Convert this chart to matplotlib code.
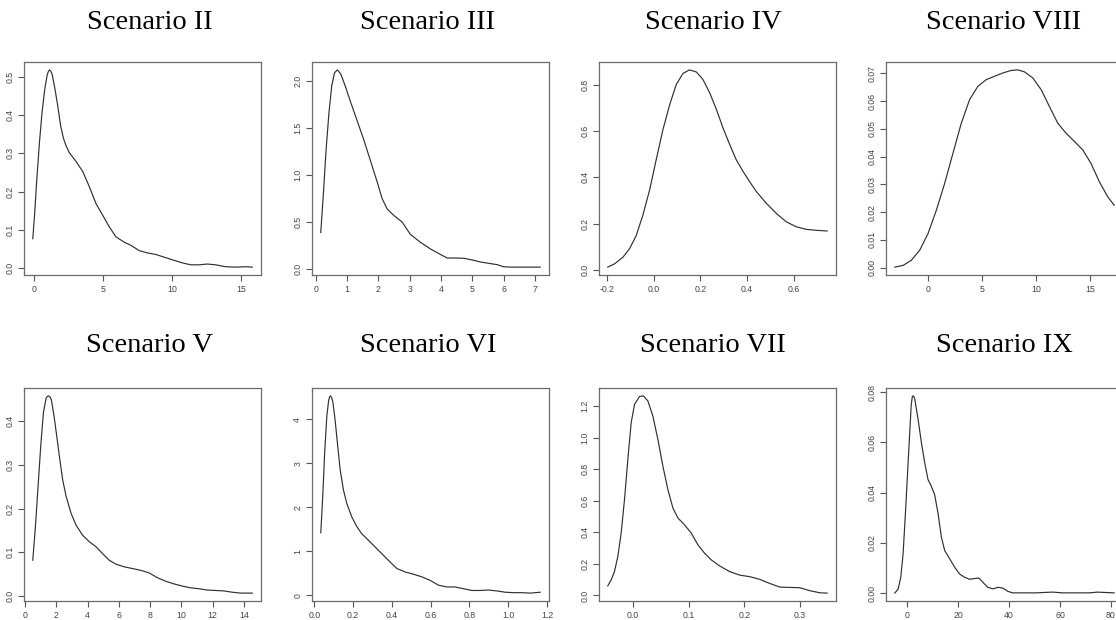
import matplotlib
matplotlib.use("Agg")
import matplotlib.pyplot as plt

plt.rcParams["axes.unicode_minus"] = False
plt.rcParams["font.family"] = "Liberation Sans"

# ---------------- data (density curves) ----------------
titles = ["Scenario II", "Scenario III", "Scenario IV", "Scenario VIII",
          "Scenario V", "Scenario VI", "Scenario VII", "Scenario IX"]

x_ii = [-0.12, 0.0, 0.17, 0.36, 0.55, 0.75, 0.92, 1.0, 1.09, 1.18, 1.28, 1.47, 1.69, 1.90,
        2.10, 2.29, 2.53, 3.01, 3.50, 3.98, 4.46, 4.94, 5.43, 5.91, 6.51, 6.99, 7.60, 8.20,
        8.80, 9.40, 10.01, 10.73, 11.33, 11.94, 12.54, 13.14, 13.87, 14.59, 15.31, 15.79]
y_ii = [0.077, 0.134, 0.231, 0.327, 0.406, 0.468, 0.504, 0.513, 0.518, 0.515, 0.507, 0.472,
        0.424, 0.372, 0.340, 0.320, 0.302, 0.279, 0.253, 0.213, 0.169, 0.139, 0.108, 0.082,
        0.068, 0.060, 0.046, 0.040, 0.036, 0.029, 0.022, 0.014, 0.009, 0.009, 0.011, 0.009,
        0.004, 0.003, 0.004, 0.003]

x_iii = [0.16, 0.25, 0.33, 0.42, 0.51, 0.60, 0.69, 0.80, 0.94, 1.10, 1.31, 1.53, 1.74, 1.96,
         2.12, 2.28, 2.49, 2.76, 3.02, 3.34, 3.66, 3.99, 4.20, 4.47, 4.73, 5.00, 5.27, 5.53,
         5.80, 5.99, 6.23, 6.55, 6.98, 7.17]
y_iii = [0.39, 0.84, 1.27, 1.66, 1.95, 2.09, 2.12, 2.075, 1.95, 1.79, 1.59, 1.38, 1.16, 0.93,
         0.75, 0.64, 0.572, 0.50, 0.37, 0.286, 0.215, 0.154, 0.118, 0.118, 0.115, 0.097,
         0.075, 0.061, 0.047, 0.025, 0.021, 0.021, 0.021, 0.021]

x_iv = [-0.196, -0.167, -0.131, -0.103, -0.074, -0.046, -0.017, 0.011, 0.04, 0.069, 0.097,
        0.126, 0.154, 0.183, 0.211, 0.24, 0.269, 0.297, 0.326, 0.354, 0.383, 0.411, 0.44,
        0.483, 0.526, 0.569, 0.611, 0.654, 0.697, 0.743]
y_iv = [0.012, 0.026, 0.055, 0.091, 0.149, 0.236, 0.345, 0.475, 0.606, 0.714, 0.801, 0.849,
        0.864, 0.855, 0.823, 0.765, 0.693, 0.613, 0.541, 0.475, 0.425, 0.381, 0.338, 0.287,
        0.243, 0.207, 0.186, 0.175, 0.171, 0.168]

x_viii = [-3.08, -2.31, -1.54, -0.77, 0.0, 0.77, 1.54, 2.31, 3.08, 3.85, 4.62, 5.39, 6.16,
          6.93, 7.70, 8.32, 8.93, 9.70, 10.47, 11.24, 12.01, 12.78, 13.55, 14.32, 15.09,
          15.86, 16.63, 17.24]
y_viii = [0.0002, 0.0008, 0.0027, 0.0063, 0.0123, 0.0207, 0.0304, 0.0413, 0.0521, 0.0606,
          0.0654, 0.0678, 0.0690, 0.0702, 0.0711, 0.0713, 0.0706, 0.0684, 0.0642, 0.0581,
          0.0521, 0.0485, 0.0455, 0.0425, 0.0376, 0.0310, 0.0256, 0.0225]

x_v = [0.49, 0.66, 0.83, 1.0, 1.17, 1.34, 1.42, 1.51, 1.60, 1.68, 1.85, 2.02, 2.19, 2.40,
       2.62, 2.94, 3.26, 3.68, 4.11, 4.53, 4.96, 5.38, 5.81, 6.34, 6.87, 7.40, 7.94, 8.47,
       9.0, 9.53, 10.06, 10.6, 11.13, 11.66, 12.19, 12.72, 13.26, 13.79, 14.53]
y_v = [0.082, 0.159, 0.251, 0.343, 0.419, 0.451, 0.456, 0.457, 0.454, 0.448, 0.411, 0.366,
       0.320, 0.266, 0.228, 0.189, 0.162, 0.139, 0.124, 0.113, 0.097, 0.082, 0.073, 0.067,
       0.063, 0.059, 0.053, 0.042, 0.034, 0.028, 0.023, 0.019, 0.017, 0.014, 0.013, 0.012,
       0.009, 0.007, 0.007]

x_vi = [0.033, 0.043, 0.053, 0.064, 0.074, 0.079, 0.084, 0.089, 0.095, 0.107, 0.119, 0.133,
        0.15, 0.167, 0.193, 0.219, 0.244, 0.279, 0.322, 0.365, 0.399, 0.425, 0.468, 0.511,
        0.554, 0.597, 0.640, 0.683, 0.726, 0.769, 0.812, 0.855, 0.898, 0.941, 0.985, 1.027,
        1.07, 1.114, 1.165]
y_vi = [1.42, 2.24, 3.23, 4.06, 4.44, 4.51, 4.53, 4.49, 4.40, 3.98, 3.45, 2.85, 2.39, 2.09,
        1.78, 1.56, 1.40, 1.25, 1.06, 0.87, 0.72, 0.61, 0.53, 0.48, 0.42, 0.34, 0.23, 0.19,
        0.19, 0.15, 0.11, 0.11, 0.12, 0.10, 0.07, 0.06, 0.06, 0.05, 0.07]

x_vii = [-0.045, -0.039, -0.033, -0.027, -0.021, -0.015, -0.009, -0.003, 0.003, 0.012, 0.019,
         0.027, 0.036, 0.045, 0.054, 0.063, 0.072, 0.081, 0.093, 0.105, 0.117, 0.129, 0.141,
         0.156, 0.174, 0.192, 0.21, 0.228, 0.246, 0.264, 0.282, 0.30, 0.318, 0.336, 0.349]
y_vii = [0.061, 0.098, 0.151, 0.246, 0.394, 0.606, 0.861, 1.094, 1.21, 1.26, 1.264, 1.232,
         1.136, 0.988, 0.818, 0.67, 0.553, 0.49, 0.447, 0.394, 0.32, 0.267, 0.225, 0.187,
         0.151, 0.129, 0.119, 0.102, 0.076, 0.053, 0.051, 0.049, 0.03, 0.017, 0.015]

x_ix = [-4.97, -3.66, -2.61, -1.7, -0.78, 0.13, 1.05, 1.5, 1.96, 2.4, 2.88, 4.18, 5.49, 6.8,
        8.1, 9.41, 10.72, 12.03, 13.33, 14.64, 16.6, 18.56, 20.52, 22.48, 24.44, 26.41, 28.1,
        29.67, 31.63, 33.6, 35.56, 37.52, 39.48, 41.4, 50.6, 54.5, 57.1, 61.0, 71.5, 74.8,
        76.7, 81.3]
y_ix = [0.0, 0.0016, 0.0063, 0.0157, 0.0318, 0.0492, 0.0666, 0.0750, 0.0784, 0.0785, 0.0773,
        0.0693, 0.0599, 0.0519, 0.0452, 0.0425, 0.0391, 0.0318, 0.0224, 0.017, 0.0137, 0.0103,
        0.0076, 0.0063, 0.0055, 0.0058, 0.006, 0.0043, 0.0023, 0.0017, 0.0023, 0.002, 0.0007,
        0.0001, 0.0001, 0.0003, 0.0004, 0.0001, 0.0001, 0.0004, 0.0003, 0.0001]

xs = [x_ii, x_iii, x_iv, x_viii, x_v, x_vi, x_vii, x_ix]
ys = [y_ii, y_iii, y_iv, y_viii, y_v, y_vi, y_vii, y_ix]

xticks = [[0, 5, 10, 15], [0, 1, 2, 3, 4, 5, 6, 7], [-0.2, 0.0, 0.2, 0.4, 0.6],
          [0, 5, 10, 15], [0, 2, 4, 6, 8, 10, 12, 14], [0.0, 0.2, 0.4, 0.6, 0.8, 1.0, 1.2],
          [0.0, 0.1, 0.2, 0.3], [0, 20, 40, 60, 80]]
yticks = [[0.0, 0.1, 0.2, 0.3, 0.4, 0.5], [0.0, 0.5, 1.0, 1.5, 2.0],
          [0.0, 0.2, 0.4, 0.6, 0.8],
          [0.00, 0.01, 0.02, 0.03, 0.04, 0.05, 0.06, 0.07],
          [0.0, 0.1, 0.2, 0.3, 0.4], [0, 1, 2, 3, 4],
          [0.0, 0.2, 0.4, 0.6, 0.8, 1.0, 1.2], [0.00, 0.02, 0.04, 0.06, 0.08]]
xfmt = ["%d", "%d", "%.1f", "%d", "%d", "%.1f", "%.1f", "%d"]
yfmt = ["%.1f", "%.1f", "%.1f", "%.2f", "%.1f", "%d", "%.1f", "%.2f"]

# ---------------- layout (pixels of a 1116x620 canvas) ----------------
W, H = 1116, 620
lefts = [24, 312, 599, 886]
tops = [62, 388]
box_w, box_h = 237, 213
title_cx = [150, 428, 713, 1004]
title_base = [29, 352]

fig = plt.figure(figsize=(W / 100, H / 100), dpi=100)

for i in range(8):
    r, c = divmod(i, 4)
    ax = fig.add_axes([lefts[c] / W, (H - tops[r] - box_h) / H, box_w / W, box_h / H])
    ax.plot(xs[i], ys[i], color="#303030", lw=0.85)
    ax.margins(0.04)
    ax.set_xticks(xticks[i])
    ax.set_yticks(yticks[i])
    ax.set_xticklabels([xfmt[i] % v for v in xticks[i]])
    ax.set_yticklabels([yfmt[i] % v for v in yticks[i]], rotation=90, va="center")
    ax.tick_params(length=4, width=0.8, color="#555555", labelsize=6.3,
                   labelcolor="#444444", pad=3)
    for s in ax.spines.values():
        s.set_color("#6a6a6a")
        s.set_linewidth(0.9)
    fig.text(title_cx[c] / W, 1 - title_base[r] / H, titles[i], ha="center",
             va="baseline", fontsize=20.5, family="Liberation Serif")

fig.savefig("out.png", dpi=100)
